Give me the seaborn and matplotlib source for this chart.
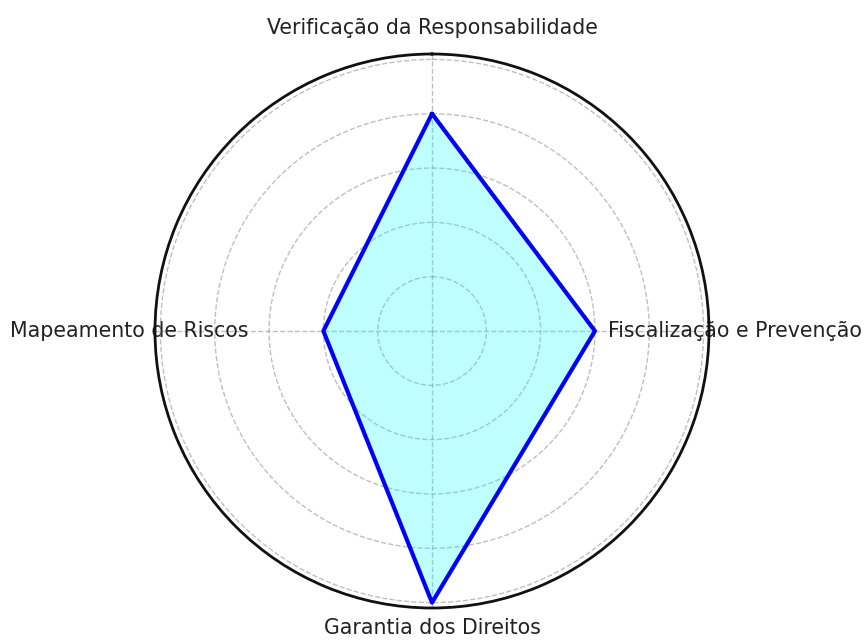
import matplotlib
matplotlib.use('Agg')
import matplotlib.pyplot as plt
import numpy as np
import pandas as pd
import seaborn as sns

# Data
categories = ['Verificação da Responsabilidade', 'Fiscalização e Prevenção',
              'Garantia dos Direitos', 'Mapeamento de Riscos']
values = [4, 3, 5, 2]

sns.set_style('white')
plt.rcParams['font.family'] = ['DejaVu Sans']

# angles: start at the top, go clockwise
angles = np.linspace(0, 2 * np.pi, len(categories), endpoint=False)
df = pd.DataFrame({'angle': np.append(angles, 2 * np.pi),
                   'value': values + values[:1]})

fig = plt.figure(figsize=(8.65, 6.41), dpi=100)
ax = fig.add_axes([(432 - 277) / 865, (641 - 331 - 277) / 641, 554 / 865, 554 / 641],
                  projection='polar')
ax.set_theta_offset(np.pi / 2)
ax.set_theta_direction(-1)

ax.fill(df['angle'], df['value'], color='cyan', alpha=0.25)
sns.lineplot(data=df, x='angle', y='value', sort=False, estimator=None,
             color='blue', linewidth=3, ax=ax)

ax.set_ylim(0, 5.1)
ax.set_yticks([1, 2, 3, 4, 5])
ax.set_yticklabels([])
ax.set_xticks(angles)
ax.set_xticklabels(categories, fontsize=14.8, color='#222222')
ax.tick_params(axis='x', pad=8)
ax.set_xlabel('')
ax.set_ylabel('')

# bottom label a little closer to the circle so it stays inside the image
ax.xaxis.get_major_ticks()[2].set_pad(4)

ax.grid(True, linestyle='--', color='gray', alpha=0.5, linewidth=1)
ax.spines['polar'].set_color('#111111')
ax.spines['polar'].set_linewidth(2)

fig.savefig('out.png', dpi=100)
